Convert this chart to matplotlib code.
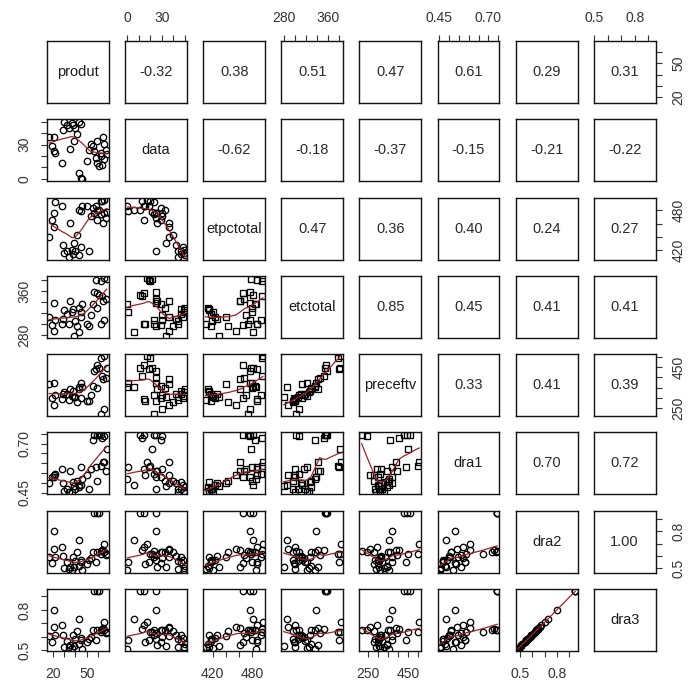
import numpy as np
import matplotlib
matplotlib.use("Agg")
import matplotlib.pyplot as plt
from matplotlib.ticker import FixedLocator, FixedFormatter

plt.rcParams['font.family'] = ['Liberation Sans', 'DejaVu Sans']

names = ["produt", "data", "etpctotal", "etctotal", "preceftv", "dra1", "dra2", "dra3"]

produt = [29.8, 32.7, 37.1, 43.0, 44.5, 29.0, 34.0, 40.0, 41.5, 21.0, 17.0, 19.4, 21.0,
          22.4, 28.3, 35.6, 39.0, 43.0, 44.5, 46.0, 53.4, 56.3, 62.2, 65.0, 59.0, 63.7,
          50.4, 64.6, 65.0, 67.5, 62.2, 57.7, 52.0, 55.7, 60.7, 66.5, 58.5, 38.0]
data = [49.5, 46.8, 49.0, 50.0, 48.0, 42.4, 44.0, 44.0, 39.4, 36.5, 36.5, 29.0, 24.5,
        23.0, 14.2, 26.0, 33.5, 5.3, 0.8, 0.0, 30.5, 24.6, 20.0, 17.0, 14.0, 12.6,
        15.7, 36.5, 30.5, 21.5, 23.0, 18.6, 25.0, 29.0, 11.0, 25.0, 33.0, 47.0]
etpctotal = [415, 418, 420, 412, 424, 427, 409, 419, 443, 455, 440, 466, 476,
             493, 487, 461, 430, 481, 479, 486, 471, 476, 494, 496, 466, 495,
             487, 461, 476, 478, 474, 487, 418, 484, 481, 468, 480, 414]
etctotal = [325, 318, 322, 330, 313, 310, 300, 305, 296, 287, 313, 298, 339,
            307, 300, 342, 279, 285, 322, 337, 316, 358, 378, 384, 356, 352,
            300, 342, 307, 383, 301, 381, 297, 336, 354, 345, 329, 328]
preceftv = [330, 320, 310, 345, 300, 318, 290, 305, 280, 262, 370, 300, 372,
            312, 295, 345, 305, 355, 372, 355, 315, 430, 497, 503, 460, 405,
            282, 390, 246, 447, 221, 440, 285, 360, 445, 395, 350, 335]
dra1 = [0.460, 0.470, 0.455, 0.480, 0.490, 0.500, 0.452, 0.470, 0.510, 0.540, 0.500, 0.530, 0.528,
        0.545, 0.570, 0.560, 0.482, 0.486, 0.580, 0.520, 0.570, 0.745, 0.587, 0.604, 0.745, 0.730,
        0.537, 0.604, 0.740, 0.672, 0.742, 0.579, 0.469, 0.720, 0.745, 0.562, 0.511, 0.503]
dra2 = [0.500, 0.550, 0.490, 0.520, 0.570, 0.600, 0.497, 0.560, 0.630, 0.660, 0.590, 0.540, 0.800,
        0.590, 0.675, 0.510, 0.510, 0.730, 0.550, 0.483, 0.580, 0.950, 0.620, 0.700, 0.950, 0.648,
        0.538, 0.648, 0.635, 0.620, 0.640, 0.552, 0.566, 0.634, 0.950, 0.610, 0.634, 0.593]
dra3 = [0.528, 0.573, 0.519, 0.546, 0.591, 0.618, 0.525, 0.582, 0.645, 0.672, 0.609, 0.564, 0.798,
        0.611, 0.686, 0.537, 0.535, 0.735, 0.575, 0.513, 0.600, 0.938, 0.636, 0.708, 0.938, 0.661,
        0.562, 0.663, 0.650, 0.638, 0.654, 0.574, 0.587, 0.649, 0.938, 0.627, 0.651, 0.612]

columns = [produt, data, etpctotal, etctotal, preceftv, dra1, dra2, dra3]

# correlations printed in the upper triangle, row by row
corr_rows = [
    [-0.32, 0.38, 0.51, 0.47, 0.61, 0.29, 0.31],
    [-0.62, -0.18, -0.37, -0.15, -0.21, -0.22],
    [0.47, 0.36, 0.40, 0.24, 0.27],
    [0.85, 0.45, 0.41, 0.41],
    [0.33, 0.41, 0.39],
    [0.70, 0.72],
    [1.00],
]

tick_pos = {
    "produt": [20, 30, 40, 50, 60],
    "data": [0, 10, 20, 30, 40, 50],
    "etpctotal": [420, 440, 460, 480],
    "etctotal": [280, 300, 320, 340, 360, 380],
    "preceftv": [250, 300, 350, 400, 450, 500],
    "dra1": [0.45, 0.50, 0.55, 0.60, 0.65, 0.70, 0.75],
    "dra2": [0.5, 0.6, 0.7, 0.8, 0.9],
    "dra3": [0.5, 0.6, 0.7, 0.8, 0.9],
}
tick_lab = {
    "produt": ["20", "", "", "50", ""],
    "data": ["0", "", "", "30", "", ""],
    "etpctotal": ["420", "", "", "480"],
    "etctotal": ["280", "", "", "", "360", ""],
    "preceftv": ["250", "", "", "", "450", ""],
    "dra1": ["0.45", "", "", "", "", "0.70", ""],
    "dra2": ["0.5", "", "", "0.8", ""],
    "dra3": ["0.5", "", "", "0.8", ""],
}

# panels drawn with open squares instead of open circles
square_panels = {(3, 1), (3, 2), (4, 1), (4, 2), (4, 3), (5, 2), (5, 3), (5, 4)}


def lowess(x, y, f=2 / 3, iters=3):
    x = np.asarray(x, float)
    y = np.asarray(y, float)
    order = np.argsort(x, kind="stable")
    x, y = x[order], y[order]
    n = len(x)
    r = int(np.ceil(f * n))
    h = np.array([np.sort(np.abs(x - x[i]))[r - 1] for i in range(n)])
    h = np.maximum(h, 1e-12)
    w = np.clip(np.abs((x[None, :] - x[:, None]) / h[:, None]), 0, 1)
    w = (1 - w ** 3) ** 3
    delta = np.ones(n)
    yest = np.zeros(n)
    for _ in range(iters + 1):
        for i in range(n):
            wt = delta * w[i]
            A = np.array([[wt.sum(), (wt * x).sum()],
                          [(wt * x).sum(), (wt * x * x).sum()]])
            b = np.array([(wt * y).sum(), (wt * y * x).sum()])
            beta = np.linalg.lstsq(A, b, rcond=None)[0]
            yest[i] = beta[0] + beta[1] * x[i]
        res = y - yest
        s = np.median(np.abs(res))
        if s <= 0:
            break
        delta = np.clip(res / (6.0 * s), -1, 1)
        delta = (1 - delta ** 2) ** 2
    return x, yest


def padded(v):
    lo, hi = min(v), max(v)
    d = (hi - lo) * 0.04
    return lo - d, hi + d


limits = [padded(c) for c in columns]
nv = len(names)

fig, axes = plt.subplots(nv, nv, figsize=(6.92, 6.88), dpi=100,
                         gridspec_kw=dict(left=0.068, right=0.9475, top=0.9404,
                                          bottom=0.0538, wspace=0.26, hspace=0.263))

for i in range(nv):
    for j in range(nv):
        ax = axes[i, j]
        ax.set_xlim(limits[j])
        ax.set_ylim(limits[i])
        for sp in ax.spines.values():
            sp.set_linewidth(1.0)
            sp.set_color("#111111")
        ax.tick_params(which="both", bottom=False, top=False, left=False, right=False,
                       labelbottom=False, labeltop=False, labelleft=False, labelright=False)

        if i == j:
            ax.text(0.5, 0.5, names[i], transform=ax.transAxes, ha="center", va="center",
                    fontsize=10.5, color="#1a1a1a")
        elif i < j:
            val = corr_rows[i][j - i - 1]
            ax.text(0.5, 0.5, "%.2f" % val, transform=ax.transAxes, ha="center",
                    va="center", fontsize=10.5, color="#2a2a2a")
        else:
            mk = "s" if (i, j) in square_panels else "o"
            ax.plot(columns[j], columns[i], linestyle="none", marker=mk, ms=4.6,
                    mfc="none", mec="black", mew=0.95)
            sx, sy = lowess(columns[j], columns[i])
            ax.plot(sx, sy, color="#9e2424", lw=0.9)

        tick_kw = dict(direction="out", length=4.5, width=0.8, labelsize=10,
                       colors="#333333", pad=7)
        # outer axes alternate sides like R's pairs()
        if i == 0 and j % 2 == 1:
            ax.xaxis.set_major_locator(FixedLocator(tick_pos[names[j]]))
            ax.xaxis.set_major_formatter(FixedFormatter(tick_lab[names[j]]))
            ax.tick_params(axis="x", top=True, labeltop=True, **tick_kw)
        if i == nv - 1 and j % 2 == 0:
            ax.xaxis.set_major_locator(FixedLocator(tick_pos[names[j]]))
            ax.xaxis.set_major_formatter(FixedFormatter(tick_lab[names[j]]))
            ax.tick_params(axis="x", bottom=True, labelbottom=True, **tick_kw)
        if j == 0 and i % 2 == 1:
            ax.yaxis.set_major_locator(FixedLocator(tick_pos[names[i]]))
            ax.yaxis.set_major_formatter(FixedFormatter(tick_lab[names[i]]))
            ax.tick_params(axis="y", left=True, labelleft=True, labelrotation=90, **tick_kw)
            for t in ax.get_yticklabels():
                t.set_va("center")
        if j == nv - 1 and i % 2 == 0:
            ax.yaxis.set_major_locator(FixedLocator(tick_pos[names[i]]))
            ax.yaxis.set_major_formatter(FixedFormatter(tick_lab[names[i]]))
            ax.tick_params(axis="y", right=True, labelright=True, labelrotation=90, **tick_kw)
            for t in ax.get_yticklabels():
                t.set_va("center")

fig.savefig("out.png", dpi=100, facecolor="white")
